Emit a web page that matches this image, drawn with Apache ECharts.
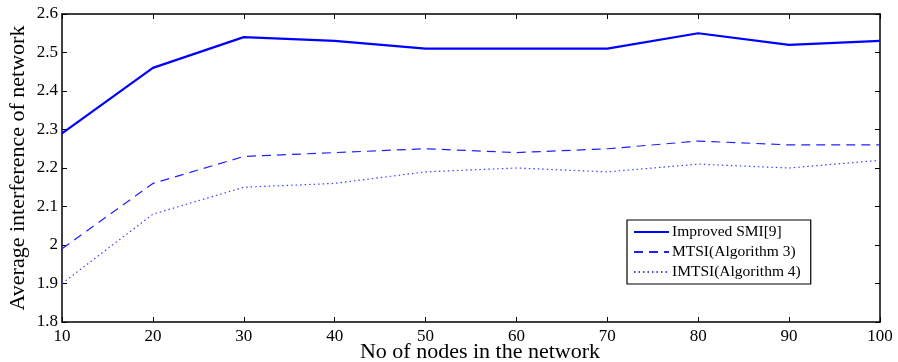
<!DOCTYPE html>
<html><head><meta charset="utf-8">
<script src="https://cdn.jsdelivr.net/npm/echarts@6/dist/echarts.min.js"></script>
<style>html,body{margin:0;padding:0;background:#fff}#c{width:898px;height:362px}</style>
</head><body><div id="c"></div>
<script>
const nodes = [10, 20, 30, 40, 50, 60, 70, 80, 90, 100];
const improvedSMI = [2.29, 2.46, 2.54, 2.53, 2.51, 2.51, 2.51, 2.55, 2.52, 2.53];
const mtsi = [1.99, 2.16, 2.23, 2.24, 2.25, 2.24, 2.25, 2.27, 2.26, 2.26];
const imtsi = [1.90, 2.08, 2.15, 2.16, 2.19, 2.20, 2.19, 2.21, 2.20, 2.22];
const seriesNames = ['Improved SMI[9]', 'MTSI(Algorithm 3)', 'IMTSI(Algorithm 4)'];

const font = 'Liberation Serif';
const pair = arr => nodes.map((n, i) => [n, arr[i]]);
const chart = echarts.init(document.getElementById('c'));
const axisCommon = {
  axisLine: {show: true, onZero: false, lineStyle: {color: '#000', width: 1.5}},
  axisTick: {show: true, inside: true, length: 5, lineStyle: {color: '#000', width: 1}},
  splitLine: {show: false},
  nameMoveOverlap: false
};
chart.setOption({
  animation: false,
  textStyle: {fontFamily: font},
  grid: {left: 62, right: 18, top: 14, bottom: 40, containLabel: false, outerBoundsMode: 'none'},
  legend: {
    left: 627, top: 220, orient: 'vertical',
    padding: [4, 10, 4, 6], itemGap: 4, itemWidth: 35, itemHeight: 17,
    borderColor: '#000', borderWidth: 1.2, backgroundColor: '#fff',
    itemStyle: {opacity: 0},
    textStyle: {fontFamily: font, fontSize: 15.5, color: '#000', padding: [0, 0, 0, -2]},
    data: seriesNames
  },
  xAxis: [
    Object.assign({type: 'value', min: 10, max: 100, interval: 10, position: 'bottom',
      name: 'No of nodes in the network', nameLocation: 'middle', nameGap: 19,
      nameTextStyle: {fontFamily: font, fontSize: 22, color: '#000', padding: [0, 0, 0, 18]},
      axisLabel: {fontFamily: font, fontSize: 17, color: '#000', margin: 6}}, axisCommon),
    Object.assign({type: 'value', min: 10, max: 100, interval: 10, position: 'top',
      axisLabel: {show: false}}, axisCommon)
  ],
  yAxis: [
    Object.assign({type: 'value', min: 1.8, max: 2.6, interval: 0.1, position: 'left',
      name: 'Average interference of network', nameLocation: 'middle', nameGap: 33,
      nameTextStyle: {fontFamily: font, fontSize: 22, color: '#000'},
      axisLabel: {fontFamily: font, fontSize: 17, color: '#000', margin: 4,
        formatter: v => (Math.round(v * 10) / 10).toString()}}, axisCommon),
    Object.assign({type: 'value', min: 1.8, max: 2.6, interval: 0.1, position: 'right',
      axisLabel: {show: false}}, axisCommon)
  ],
  series: [
    {name: seriesNames[0], type: 'line', data: pair(improvedSMI), symbol: 'none',
      lineStyle: {color: '#0000ff', width: 2.2, type: 'solid'}, itemStyle: {color: '#0000ff'}},
    {name: seriesNames[1], type: 'line', data: pair(mtsi), symbol: 'none',
      lineStyle: {color: '#2020ff', width: 1.2, type: [9, 6]}, itemStyle: {color: '#2020ff'}},
    {name: seriesNames[2], type: 'line', data: pair(imtsi), symbol: 'none',
      lineStyle: {color: '#4040ff', width: 1.2, type: [1.5, 3]}, itemStyle: {color: '#4040ff'}}
  ]
});
</script></body></html>
